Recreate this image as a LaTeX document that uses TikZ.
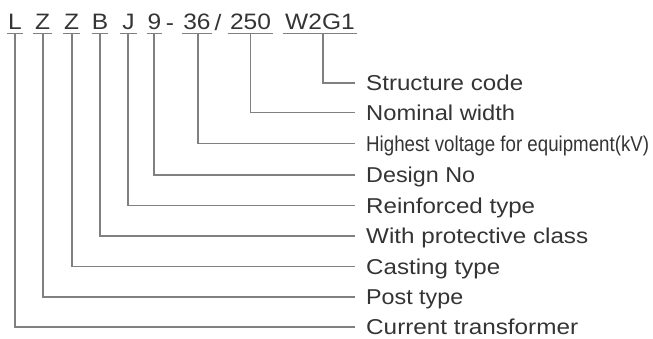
\documentclass[tikz,border=0pt]{standalone}
\usepackage{fontspec}
\setmainfont{Liberation Sans}
\definecolor{txt}{RGB}{52,52,52}
\definecolor{ln}{RGB}{128,128,128}
\newcommand{\wlabel}[2]{\resizebox{#1pt}{\height}{#2}}
\newcommand{\wcode}[1]{\scalebox{1.1}[1]{#1}}
\begin{document}
\begin{tikzpicture}[x=1pt,y=-1pt,
  code/.style={font=\fontsize{22.3}{24}\selectfont, text=txt, inner xsep=0pt, inner ysep=0pt,
    text height=16pt, text depth=3.5pt, anchor=south},
  sep/.style={font=\fontsize{22.3}{24}\selectfont, text=txt, inner sep=0pt, anchor=base},
  lbl/.style={font=\fontsize{21.5}{24}\selectfont, text=txt, inner sep=0pt, anchor=west,
    text height=15.4pt, text depth=0pt},
  ul/.style={draw=ln, line width=1.2pt},
  lead/.style={draw=ln, line width=1.2pt}]
\useasboundingbox (0,0) rectangle (653,338);
% code letters
\node[code, minimum width=16] (cL) at (15,33.5) {\wcode{L}};
\node[code, minimum width=19] (cZa) at (42.5,33.5) {\wcode{Z}};
\node[code, minimum width=17] (cZb) at (71.5,33.5) {\wcode{Z}};
\node[code, minimum width=16] (cB) at (100,33.5) {\wcode{B}};
\node[code, minimum width=17] (cJ) at (128.5,33.5) {\wcode{J}};
\node[code, minimum width=15] (c9) at (154.5,33.5) {\wcode{9}};
\node[sep] (dash) at (170,30) {\wcode{-}};
\node[code, minimum width=30] (c36) at (197,33.5) {\wcode{36}};
\node[sep] (slash) at (218,30) {\wcode{/}};
\node[code, minimum width=45] (c250) at (250.5,33.5) {\wcode{250}};
\node[code, minimum width=74] (cW) at (320,33.5) {\wcode{W2G1}};
\foreach \n in {cL,cZa,cZb,cB,cJ,c9,c36,c250,cW}
  \draw[ul] (\n.south west) -- (\n.south east);
% labels
\node[lbl] (tW) at (366,83) {\wlabel{157}{Structure code}};
\node[lbl] (t250) at (366,112.5) {\wlabel{149}{Nominal width}};
\node[lbl] (t36) at (366,143.5) {\wlabel{283}{Highest voltage for equipment(kV)}};
\node[lbl] (t9) at (366,175) {\wlabel{109}{Design No}};
\node[lbl] (tJ) at (366,205.5) {\wlabel{169}{Reinforced type}};
\node[lbl] (tB) at (366,236) {\wlabel{222}{With protective class}};
\node[lbl] (tZb) at (366,266.5) {\wlabel{134}{Casting type}};
\node[lbl] (tZa) at (366,297) {\wlabel{97}{Post type}};
\node[lbl] (tL) at (366,327) {\wlabel{212}{Current transformer}};
% connectors
\draw[lead] ([xshift=3pt]cW.south) |- ([xshift=-11pt]tW.west);
\draw[lead] (c250.south) |- ([xshift=-11pt]t250.west);
\draw[lead] ([xshift=1pt]c36.south) |- ([xshift=-11pt]t36.west);
\draw[lead] ([xshift=-0.5pt]c9.south) |- ([xshift=-11pt]t9.west);
\draw[lead] ([xshift=-0.5pt]cJ.south) |- ([xshift=-11pt]tJ.west);
\draw[lead] (cB.south) |- ([xshift=-11pt]tB.west);
\draw[lead] ([xshift=0.5pt]cZb.south) |- ([xshift=-11pt]tZb.west);
\draw[lead] ([xshift=0.5pt]cZa.south) |- ([xshift=-11pt]tZa.west);
\draw[lead] (cL.south) |- ([xshift=-11pt]tL.west);
\end{tikzpicture}
\end{document}
